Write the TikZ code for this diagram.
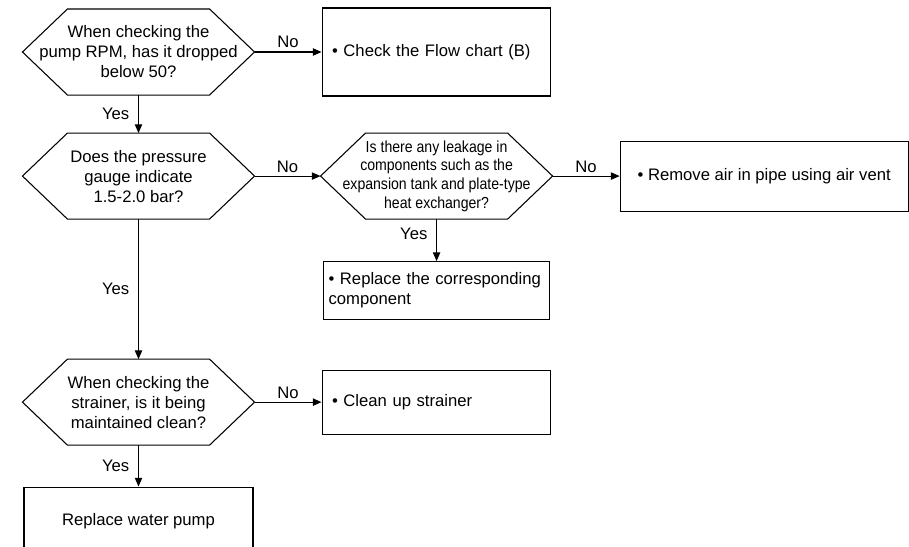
\documentclass[tikz,border=0pt]{standalone}
\usepackage{fontspec}
\setmainfont{Liberation Sans}
\newfontfamily\narrowfont[FakeStretch=0.88]{Liberation Sans}
\usetikzlibrary{arrows.meta,positioning}

\begin{document}
\begin{tikzpicture}[x=0.75pt,y=-0.75pt,>={Triangle[length=6.5pt,width=5.5pt]},
  font=\fontsize{12.5}{15}\selectfont,line width=0.8pt,
  ask/.style={minimum width=173.25pt,minimum height=63.75pt,inner sep=0pt,align=center},
  act/.style={draw,inner xsep=7.5pt,inner ysep=0pt,align=left},
  lbl/.style={inner sep=2.5pt}]
\clip (0,0) rectangle (909,546);
% questions
\node[ask] (rpm) at (138.5,52) {When checking the\\pump RPM, has it dropped\\below 50?};
\node[ask,below=28.5pt of rpm] (gauge) {Does the pressure\\gauge indicate\\1.5-2.0 bar?};
\node[ask,right=49.5pt of gauge,font=\narrowfont\fontsize{12}{13.9}\selectfont] (leak) {Is there any leakage in\\components such as the\\expansion tank and plate-type\\heat exchanger?};
\node[ask,below=105pt of gauge] (strainer) {When checking the\\strainer, is it being\\maintained clean?};
% actions
\node[act,right=50.25pt of rpm,minimum height=66pt,text width=156pt] (chartb) {• Check the Flow chart (B)};
\node[act,right=50.25pt of leak,minimum height=52.5pt,minimum width=216pt,align=center] (airvent) {• Remove air in pipe using air vent};
\node[act,below=31.5pt of leak,minimum height=43.5pt,inner xsep=4pt,text width=162pt] (comp) {• Replace the corresponding\\component};
\node[act,right=50.25pt of strainer,minimum height=48pt,text width=156pt] (clean) {• Clean up strainer};
\node[act,below=31pt of strainer,minimum height=51pt,minimum width=171.75pt,align=center] (pump) {Replace water pump};
% hexagon outlines
\foreach \n in {rpm,gauge,leak,strainer}
  \draw (\n.west) -- ([xshift=33.75pt]\n.north west) -- ([xshift=-33.75pt]\n.north east)
    -- (\n.east) -- ([xshift=-33.75pt]\n.south east) -- ([xshift=33.75pt]\n.south west) -- cycle;
% connectors
\draw[->] (rpm.east) -- node[lbl,above]{No} (chartb.west);
\draw[->] (rpm.south) -- node[lbl,left=4pt]{Yes} (gauge.north);
\draw[->] (gauge.east) -- node[lbl,above]{No} (leak.west);
\draw[->] (leak.east) -- node[lbl,above]{No} (airvent.west);
\draw[->] (leak.south) -- node[lbl,left=4pt,pos=.35]{Yes} (comp.north);
\draw[->] (gauge.south) -- node[lbl,left=4pt]{Yes} (strainer.north);
\draw[->] (strainer.east) -- node[lbl,above]{No} (clean.west);
\draw[->] (strainer.south) -- node[lbl,left=4pt]{Yes} (pump.north);
\end{tikzpicture}
\end{document}
